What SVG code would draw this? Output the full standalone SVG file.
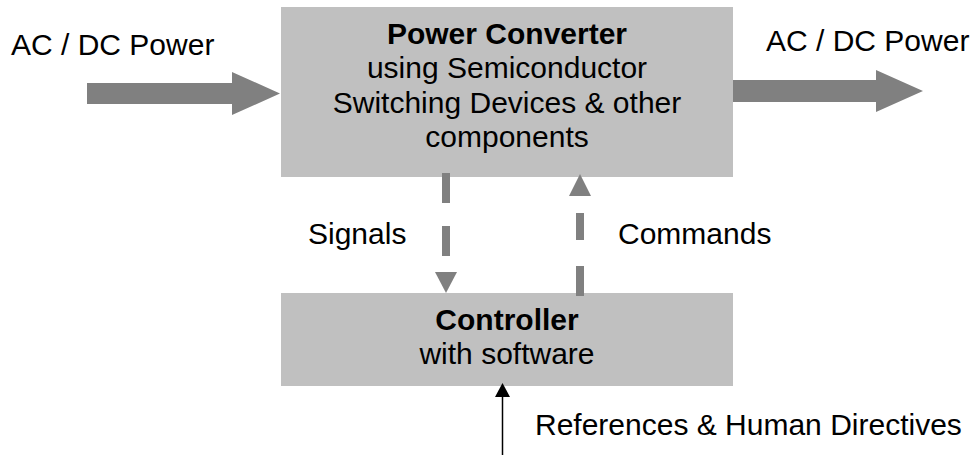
<svg xmlns="http://www.w3.org/2000/svg" width="970" height="455" viewBox="0 0 970 455">
  <style>
    .box { fill: #c0c0c0; }
    .txt { font-family: "Liberation Sans", Arial, sans-serif; font-size: 30px; fill: #000; }
    .mid { text-anchor: middle; }
    .bold { font-weight: bold; }
    .flow { fill: #808080; }
    .dash { stroke: #808080; stroke-width: 8; fill: none; }
  </style>
  <rect width="970" height="455" fill="#fff"/>

  <!-- Power converter block -->
  <g id="power-converter">
    <rect class="box" x="281" y="7" width="452" height="170"/>
    <text class="txt mid bold" x="507" y="44">Power Converter</text>
    <text class="txt mid" x="507" y="78">using Semiconductor</text>
    <text class="txt mid" x="507" y="113">Switching Devices &amp; other</text>
    <text class="txt mid" x="507" y="147">components</text>
  </g>

  <!-- Controller block -->
  <g id="controller">
    <rect class="box" x="281" y="293" width="452" height="93"/>
    <text class="txt mid bold" x="507" y="330">Controller</text>
    <text class="txt mid" x="507" y="364">with software</text>
  </g>

  <!-- Connectors -->
  <g id="connectors">
    <!-- power in -->
    <polygon class="flow" points="87,83 232,83 232,72 280,93.5 232,115 232,104 87,104"/>
    <!-- power out -->
    <polygon class="flow" points="733,80 876,80 876,70 923,91 876,112 876,102 733,102"/>
    <!-- signals: converter to controller -->
    <line class="dash" x1="446" y1="173" x2="446" y2="272" stroke-dasharray="30 23"/>
    <polygon class="flow" points="435,272 457,272 446,293"/>
    <!-- commands: controller to converter -->
    <line class="dash" x1="580" y1="296" x2="580" y2="196" stroke-dasharray="30 26 27 30"/>
    <polygon class="flow" points="569,196 591,196 580,174"/>
    <!-- references input -->
    <line x1="502.5" y1="455" x2="502.5" y2="396" stroke="#000" stroke-width="1.5"/>
    <polygon points="495,397 510,397 502.5,383" fill="#000"/>
  </g>

  <!-- Labels -->
  <g id="labels">
    <text class="txt" x="11" y="55">AC / DC Power</text>
    <text class="txt" x="766" y="51">AC / DC Power</text>
    <text class="txt" x="308" y="244">Signals</text>
    <text class="txt" x="618" y="244">Commands</text>
    <text class="txt" x="535" y="435">References &amp; Human Directives</text>
  </g>
</svg>
